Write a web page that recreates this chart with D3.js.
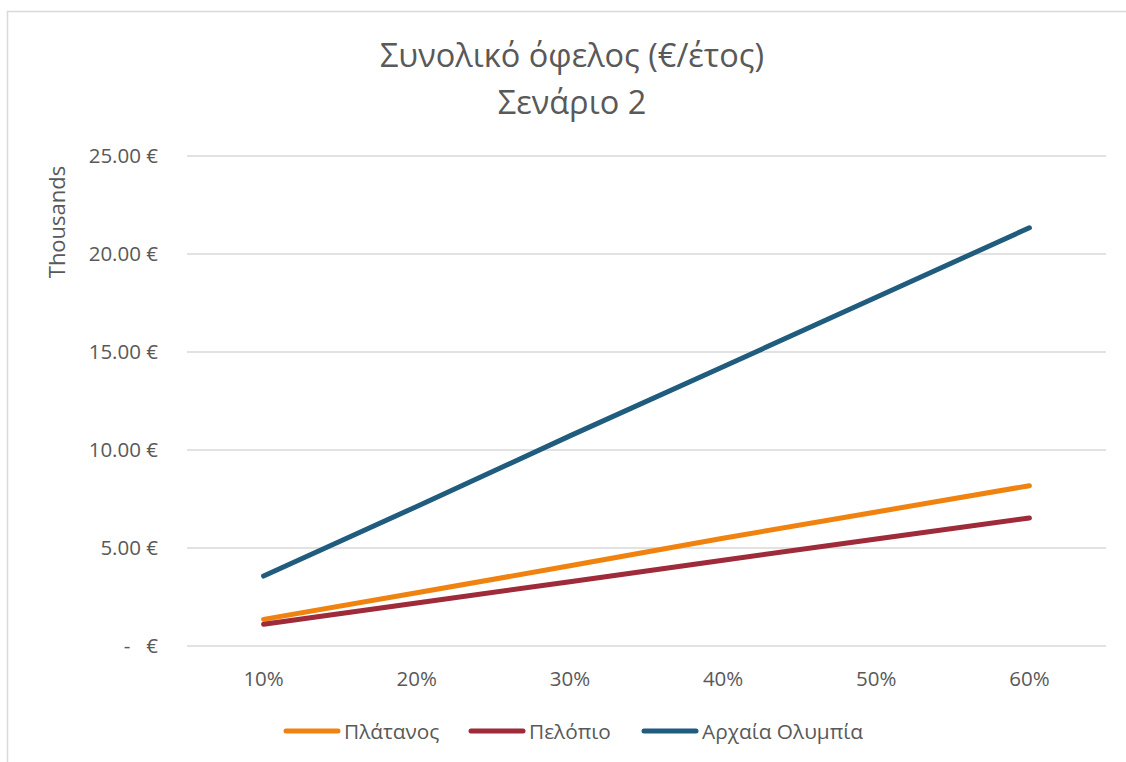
<!DOCTYPE html>
<html><head><meta charset="utf-8">
<script src="https://cdn.jsdelivr.net/npm/d3@7"></script>
<style>
html,body{margin:0;padding:0;background:#fff;}
svg{display:block;}
text{font-family:"Open Sans",Lato,sans-serif;fill:#595959;}
</style></head>
<body>
<svg id="chart" width="1126" height="762"></svg>
<script>
const titleLines = ["Συνολικό όφελος (€/έτος)", "Σενάριο 2"];
const categories = ["10%", "20%", "30%", "40%", "50%", "60%"];
const platanos = [1.36, 2.72, 4.09, 5.50, 6.84, 8.18];
const pelopio = [1.11, 2.19, 3.28, 4.38, 5.46, 6.53];
const olympia = [3.57, 7.12, 10.72, 14.25, 17.79, 21.34];
const seriesNames = ["Πλάτανος", "Πελόπιο", "Αρχαία Ολυμπία"];
const seriesColors = ["#F0820F", "#9E2A3A", "#1F5C7E"];
const yTicks = [0, 5, 10, 15, 20, 25];
const yTickLabels = ["-   €", "5.00 €", "10.00 €", "15.00 €", "20.00 €", "25.00 €"];
const yAxisTitle = "Thousands";

const seriesValues = [platanos, pelopio, olympia];
const svg = d3.select("#chart");

// chart border (light gray)
svg.append("rect").attr("x", 7.5).attr("y", 11.5).attr("width", 1200).attr("height", 800)
  .attr("fill", "none").attr("stroke", "#d9d9d9").attr("stroke-width", 1.5);

const x = d3.scalePoint().domain(categories).range([187, 1106]).padding(0.5);
const y = d3.scaleLinear().domain([0, 25]).range([646, 156]);

// gridlines
svg.append("g").selectAll("line").data(yTicks).join("line")
  .attr("x1", 187).attr("x2", 1106)
  .attr("y1", d => y(d)).attr("y2", d => y(d))
  .attr("stroke", "#d9d9d9").attr("stroke-width", 1.5);

// y tick labels
svg.append("g").selectAll("text").data(yTicks).join("text")
  .attr("x", 158).attr("y", d => y(d) + 7)
  .attr("text-anchor", "end").attr("font-size", 20.5)
  .style("white-space", "pre")
  .text((d, i) => yTickLabels[i]);

// x tick labels
svg.append("g").selectAll("text").data(categories).join("text")
  .attr("x", d => x(d)).attr("y", 685.5)
  .attr("text-anchor", "middle").attr("font-size", 20.5)
  .text(d => d);

// y axis title
svg.append("text").attr("transform", "translate(65,222) rotate(-90)")
  .attr("text-anchor", "middle").attr("font-size", 22).text(yAxisTitle);

// title
svg.append("g").selectAll("text").data(titleLines).join("text")
  .attr("x", 572).attr("y", (d, i) => 67 + i * 47)
  .attr("text-anchor", "middle").attr("font-size", 32.5).text(d => d);

// lines
const line = d3.line().x((d, i) => x(categories[i])).y(d => y(d));
svg.append("g").selectAll("path").data(seriesValues).join("path")
  .attr("d", d => line(d)).attr("fill", "none")
  .attr("stroke", (d, i) => seriesColors[i]).attr("stroke-width", 5)
  .attr("stroke-linecap", "round").attr("stroke-linejoin", "round");

// legend
const legendX = [286, 471, 644];
const lg = svg.append("g").selectAll("g").data(seriesNames).join("g")
  .attr("transform", (d, i) => `translate(${legendX[i]},731)`);
lg.append("line").attr("x1", 0).attr("x2", 52).attr("y1", 0).attr("y2", 0)
  .attr("stroke", (d, i) => seriesColors[i]).attr("stroke-width", 5).attr("stroke-linecap", "round");
lg.append("text").attr("x", 58).attr("y", 7.5).attr("font-size", 20.8).text(d => d);
</script>
</body></html>
